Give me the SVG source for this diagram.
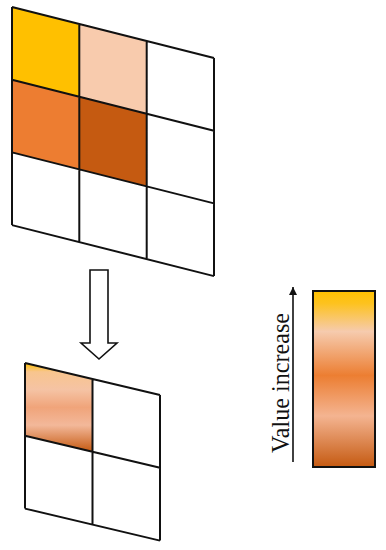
<svg xmlns="http://www.w3.org/2000/svg" width="386" height="550" viewBox="0 0 386 550">
<style>
.grid{fill:none;stroke:#111;stroke-width:2;stroke-linejoin:miter}
.cell{stroke:none}
.txt{font-family:"Liberation Serif","Times New Roman",serif;font-size:25px;fill:#111}
</style>
<defs>
<linearGradient id="gBar" x1="0" y1="0" x2="0" y2="1">
<stop offset="0" stop-color="#FFC000"/>
<stop offset="0.07" stop-color="#FDC21E"/>
<stop offset="0.23" stop-color="#F6CBAE"/>
<stop offset="0.48" stop-color="#EC7E32"/>
<stop offset="0.71" stop-color="#F4B491"/>
<stop offset="1" stop-color="#C55A11"/>
</linearGradient>
<linearGradient id="gCell" x1="0" y1="0" x2="0" y2="1">
<stop offset="0" stop-color="#FFC000"/>
<stop offset="0.1" stop-color="#F8C58E"/>
<stop offset="0.3" stop-color="#F5C3A4"/>
<stop offset="0.5" stop-color="#F0A47A"/>
<stop offset="0.7" stop-color="#F3B89A"/>
<stop offset="1" stop-color="#C55A11"/>
</linearGradient>
<marker id="ah" viewBox="0 0 8 8" refX="8" refY="4" markerWidth="8" markerHeight="8" markerUnits="userSpaceOnUse" orient="auto">
<path d="M0,0 L8,4 L0,8 Z" fill="#111"/>
</marker>
</defs>

<g id="input-grid">
<polygon class="cell" fill="#FFC000" points="12,7 79.3,24 79.3,96.7 12,79.7"/>
<polygon class="cell" fill="#F8CBAD" points="79.3,24 146.7,41 146.7,113.7 79.3,96.7"/>
<polygon class="cell" fill="#ED7D31" points="12,79.7 79.3,96.7 79.3,169.4 12,152.4"/>
<polygon class="cell" fill="#C55A11" points="79.3,96.7 146.7,113.7 146.7,186.4 79.3,169.4"/>
<path class="grid" d="M12,7 L214,58 M12,79.7 L214,130.7 M12,152.4 L214,203.4 M12,225.1 L214,276.1 M12,7 L12,225.1 M79.3,24 L79.3,242.1 M146.7,41 L146.7,259.1 M214,58 L214,276.1"/>
</g>

<g id="pooled-grid">
<polygon class="cell" fill="url(#gCell)" points="25,363 92.5,379 92.5,451.8 25,435.8"/>
<path class="grid" d="M25,363 L160,395 M25,435.8 L160,467.8 M25,508.6 L160,540.6 M25,363 L25,508.6 M92.5,379 L92.5,524.6 M160,395 L160,540.6"/>
</g>

<g id="legend">
<rect x="313" y="291" width="62" height="176" fill="url(#gBar)" stroke="#111" stroke-width="2"/>
<text class="txt" transform="translate(289,453) rotate(-90)" textLength="140" lengthAdjust="spacingAndGlyphs">Value increase</text>
</g>

<g id="connectors">
<polygon points="90,270 108,270 108,343 117,343 99,359 81,343 90,343" fill="#fff" stroke="#111" stroke-width="1.6" stroke-linejoin="miter"/>
<line x1="293" y1="462" x2="293" y2="287" stroke="#111" stroke-width="1.6" marker-end="url(#ah)"/>
</g>
</svg>
